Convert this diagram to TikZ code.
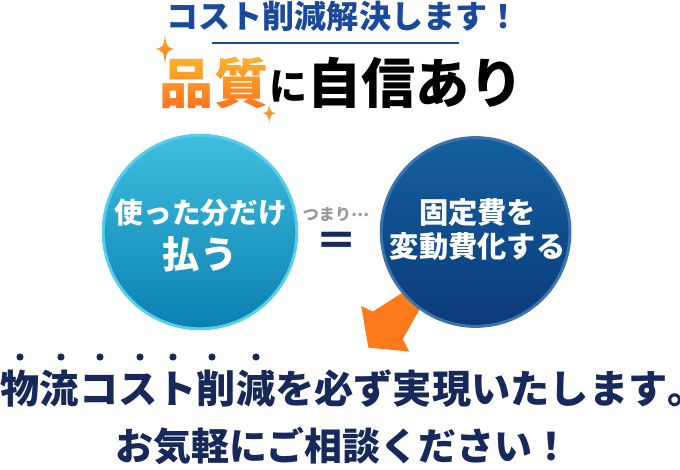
\documentclass[tikz,border=0pt]{standalone}
\usepackage{fontspec}
\usepackage{xcolor}
\usetikzlibrary{fadings}
\newfontfamily\cjk{Noto Sans CJK JP}
\definecolor{titleblue}{HTML}{1B4A9C}
\definecolor{navytext}{HTML}{16295A}
\definecolor{arroworange}{HTML}{FF7A1A}
\definecolor{goldtop}{HTML}{FFB92E}
\definecolor{goldbottom}{HTML}{FF6A1A}
\begin{tikzfadingfrompicture}[name=qualityfade]
    \node[text=transparent!0, font=\cjk\bfseries\fontsize{38.5}{42}\selectfont] (qualitymask) at (0,0) {品質};
\end{tikzfadingfrompicture}
\begin{document}
\begin{tikzpicture}[
            titletext/.style={font=\cjk\bfseries\fontsize{22.8}{26}\selectfont, text=titleblue, inner sep=0pt},
            headtext/.style={font=\cjk\bfseries\fontsize{38.5}{42}\selectfont, text=black, inner sep=0pt},
            bottomtext/.style={font=\cjk\bfseries\fontsize{27.9}{30}\selectfont, text=navytext, inner sep=0pt},
            circletext/.style={font=\cjk\bfseries\fontsize{20.4}{25}\selectfont, text=white, inner sep=0pt},
            roundel/.style={circle, inner sep=0pt, line width=2.1pt},
            sparkle/.style={top color=goldtop, bottom color=goldbottom, draw=none}
        ]
        \useasboundingbox (0,0) rectangle (17,11.75);

        % Heading
        \node[titletext] (title) at (8.575,11.35) {コスト削減解決します！};
        \coordinate (ruleleft) at (5.3,10.68);
        \coordinate (ruleright) at (11.475,10.68);
        \draw[titleblue, line width=1.4pt] (ruleleft) -- (ruleright);
        \path[top color=goldtop, bottom color=goldbottom, path fading=qualityfade, fit fading=false,
            fading transform={shift={(5.35,9.675)}}] (3.9,8.9) rectangle (6.8,10.45);
        \node[headtext, font=\cjk\bfseries\fontsize{27}{30}\selectfont] (headni) at (7.2,9.6) {に};
        \node[headtext] (headline) at (10.39,9.675) {自信あり};

        % Sparkles
        \foreach \cx/\cy/\rx/\ry in {4.125/10.525/0.24/0.4, 6.73/8.92/0.17/0.26}
            \shade[sparkle] (\cx-\rx,\cy) .. controls (\cx-0.2*\rx,\cy+0.1*\ry) and (\cx-0.1*\rx,\cy+0.2*\ry) .. (\cx,\cy+\ry)
                .. controls (\cx+0.1*\rx,\cy+0.2*\ry) and (\cx+0.2*\rx,\cy+0.1*\ry) .. (\cx+\rx,\cy)
                .. controls (\cx+0.2*\rx,\cy-0.1*\ry) and (\cx+0.1*\rx,\cy-0.2*\ry) .. (\cx,\cy-\ry)
                .. controls (\cx-0.1*\rx,\cy-0.2*\ry) and (\cx-0.2*\rx,\cy-0.1*\ry) .. cycle;

        % Arrow under the right circle
        \fill[arroworange] (10.04,4.42) -- (9.32,3.96) -- (9.03,4.1) -- (9.21,3.06) -- (10.23,2.96) -- (10.07,3.27) -- (10.5,4.04) -- (11,4.8) -- cycle;

        % Circles
        \node[roundel, minimum size=4.84cm, top color={rgb,255:red,63;green,191;blue,223}, bottom color={rgb,255:red,11;green,127;blue,177},
            draw={rgb,255:red,85;green,205;blue,235}] (leftcircle) at (5,5.95) {};
        \node[roundel, minimum size=4.72cm, top color={rgb,255:red,20;green,96;blue,158}, bottom color={rgb,255:red,11;green,58;blue,122},
            draw={rgb,255:red,59;green,116;blue,172}] (rightcircle) at (11.89,5.95) {};
        \node[circletext] (payused) at (5.02,6.43) {使った分だけ};
        \node[circletext, font=\cjk\bfseries\fontsize{26.5}{28}\selectfont] (pay) at (5,5.38) {払う};
        \node[circletext, font=\cjk\bfseries\fontsize{20.8}{25}\selectfont] (fixedcost) at (11.94,6.45) {固定費を};
        \node[circletext, font=\cjk\bfseries\fontsize{20.8}{25}\selectfont] (varcost) at (11.94,5.58) {変動費化する};

        % Middle
        \node[font=\cjk\bfseries\fontsize{11.4}{13}\selectfont, text=black!40, inner sep=0pt] (tsumari) at (8.4,6.375) {つまり\raisebox{0.3em}{…}};
        \node[font=\cjk\bfseries\fontsize{30}{32}\selectfont, text=navytext, inner sep=0pt] (equal) at (8.42,5.65) {＝};

        % Bottom text
        \foreach \dotx in {20,61,100,140,173,212,256}
            \fill[navytext] (\dotx/40,2.825) circle (0.09);
        \node[bottomtext] (lineone) at (8.5,2.025) {物流コスト削減を必ず実現いたします\makebox[0.3em][l]{。}};
        \node[bottomtext, font=\cjk\bfseries\fontsize{27}{30}\selectfont] (linetwo) at (8.58,0.6) {お気軽にご相談ください！};
\end{tikzpicture}
\end{document}
